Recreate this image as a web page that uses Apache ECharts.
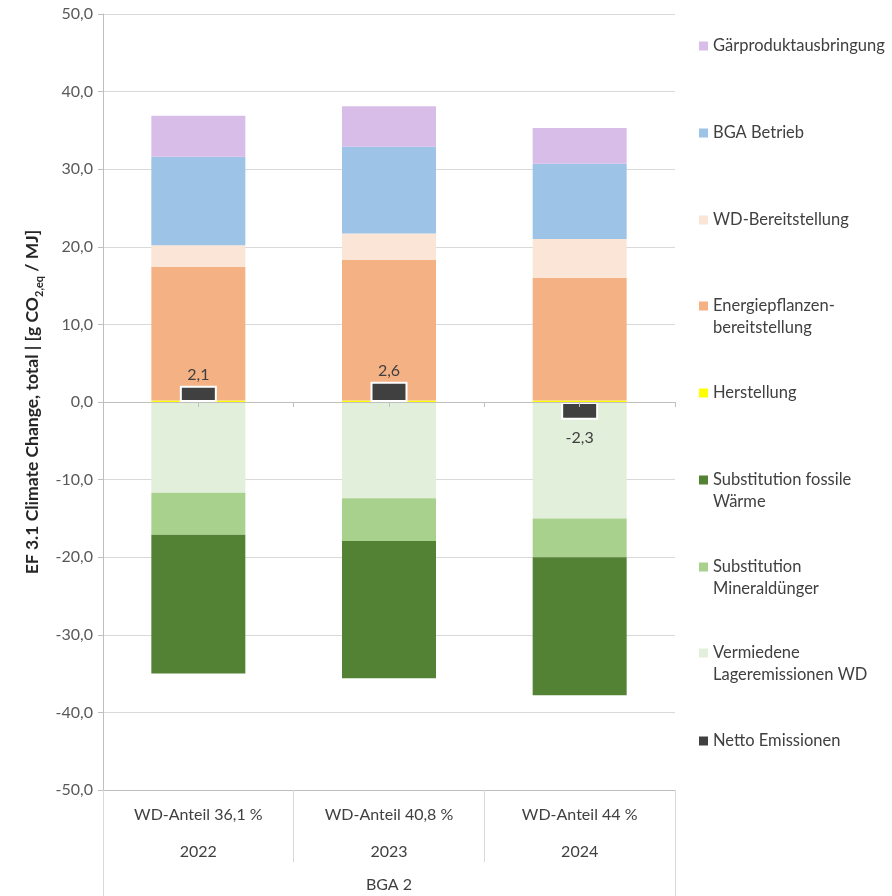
<!DOCTYPE html>
<html><head><meta charset="utf-8">
<script src="https://cdn.jsdelivr.net/npm/echarts@6/dist/echarts.min.js"></script>
<style>html,body{margin:0;padding:0;background:#fff}#c{width:892px;height:896px}</style>
</head><body><div id="c"></div>
<script>
const years = ['2022', '2023', '2024'];
const shares = ['WD-Anteil 36,1 %', 'WD-Anteil 40,8 %', 'WD-Anteil 44 %'];
const groupLabel = ['BGA 2'];
const herstellung = [0.2, 0.2, 0.2];
const energie = [17.2, 18.1, 15.8];
const wdBereit = [2.8, 3.4, 5.0];
const bgaBetrieb = [11.4, 11.2, 9.7];
const gaer = [5.3, 5.2, 4.6];
const vermiedene = [-11.7, -12.4, -15.0];
const mineral = [-5.4, -5.5, -5.0];
const fossil = [-17.9, -17.7, -17.8];
const netto = [2.1, 2.6, -2.3];

const FONT = 'Lato';
const names = {
  gaer: 'Gärproduktausbringung',
  bga: 'BGA Betrieb',
  wd: 'WD-Bereitstellung',
  energie: 'Energiepflanzen-\nbereitstellung',
  herst: 'Herstellung',
  fossil: 'Substitution fossile\nWärme',
  mineral: 'Substitution\nMineraldünger',
  verm: 'Vermiedene\nLageremissionen WD',
  netto: 'Netto Emissionen'
};
const legendRows = [
  [names.gaer, 45, false], [names.bga, 132, false], [names.wd, 219, false],
  [names.energie, 305, true], [names.herst, 392, false], [names.fossil, 479, true],
  [names.mineral, 566, true], [names.verm, 652, true], [names.netto, 740, false]
];
// square at top of a taller (invisible) box so the icon lines up with the first text line
const ICON_TWO = 'path://M0,0L9,0L9,9L0,9Z M0,31L0,31Z';

function stackBar(name, data, color) {
  return { name, type: 'bar', stack: 'total', data, barWidth: 94, xAxisIndex: 0,
    itemStyle: { color }, emphasis: { disabled: true } };
}
const fmt = v => v.toFixed(1).replace('.', ',');

const chart = echarts.init(document.getElementById('c'), null, { renderer: 'canvas' });
chart.setOption({
  animation: false,
  textStyle: { fontFamily: FONT },
  grid: { left: 103, right: 217, top: 14, bottom: 106 },
  legend: legendRows.map(([n, y, two]) => ({
    data: [n], left: 699, top: y - 10, orient: 'vertical', padding: 0,
    itemWidth: 9, itemHeight: two ? 31 : 9, selectedMode: false,
    icon: two ? ICON_TWO : 'rect', symbolKeepAspect: false,
    itemStyle: { borderWidth: 0 },
    textStyle: { fontFamily: FONT, fontSize: 16.5, color: '#404040', lineHeight: 22 }
  })),
  xAxis: [
    { type: 'category', data: years, position: 'bottom',
      axisLine: { onZero: false, lineStyle: { color: '#BFBFBF' } },
      axisTick: { show: true, length: 72, lineStyle: { color: '#D9D9D9' } },
      axisLabel: { margin: 6,
        formatter: (v, i) => `{a|${shares[i]}}\n{a|${v}}`,
        rich: { a: { fontFamily: FONT, fontSize: 16, lineHeight: 37, color: '#404040' } } },
      splitLine: { show: false } },
    { type: 'category', data: years, position: 'bottom', z: 5,
      axisLine: { onZero: true, onZeroAxisIndex: 0, lineStyle: { color: '#BFBFBF' } },
      axisTick: { show: true, alignWithLabel: true, length: 5, lineStyle: { color: '#BFBFBF' } },
      axisLabel: { show: false }, splitLine: { show: false } },
    { type: 'category', data: years, position: 'bottom', z: 5,
      axisLine: { onZero: true, onZeroAxisIndex: 0, lineStyle: { color: '#BFBFBF' } },
      axisTick: { show: true, length: 5, lineStyle: { color: '#BFBFBF' } },
      axisLabel: { show: false }, splitLine: { show: false } },
    { type: 'category', data: groupLabel, position: 'bottom',
      axisLine: { show: false, onZero: false },
      axisTick: { show: true, length: 106, lineStyle: { color: '#D9D9D9' } },
      axisLabel: { margin: 87, fontFamily: FONT, fontSize: 16, color: '#404040' },
      splitLine: { show: false } }
  ],
  yAxis: {
    type: 'value', min: -50, max: 50, interval: 10,
    axisLine: { show: true, lineStyle: { color: '#BFBFBF' } },
    axisTick: { show: true, length: 5, lineStyle: { color: '#BFBFBF' } },
    axisLabel: { formatter: fmt, margin: 10, fontFamily: FONT, fontSize: 16, color: '#595959' },
    splitLine: { lineStyle: { color: '#D9D9D9' } },
    name: '{a|EF 3.1 Climate Change, total | [g CO}{s|2,eq}{a| / MJ]}',
    nameLocation: 'middle', nameGap: 57,
    nameTextStyle: { rich: {
      a: { fontFamily: FONT, fontSize: 17.5, fontWeight: 'bold', color: '#262626', lineHeight: 24, verticalAlign: 'bottom' },
      s: { fontFamily: FONT, fontSize: 11, fontWeight: 'bold', color: '#262626', lineHeight: 24, verticalAlign: 'bottom', padding: [0, 0, -3, 0] }
    } }
  },
  series: [
    stackBar(names.herst, herstellung, '#FFFF00'),
    stackBar(names.energie, energie, '#F4B183'),
    stackBar(names.wd, wdBereit, '#FBE5D6'),
    stackBar(names.bga, bgaBetrieb, '#9DC3E6'),
    stackBar(names.gaer, gaer, '#D9BDE9'),
    stackBar(names.verm, vermiedene, '#E2EFDA'),
    stackBar(names.mineral, mineral, '#A9D18E'),
    stackBar(names.fossil, fossil, '#548235'),
    { name: names.netto, type: 'bar', xAxisIndex: 1, barWidth: 37, z: 3,
      data: netto.map(v => ({ value: v, label: { position: v >= 0 ? 'top' : 'bottom', distance: v >= 0 ? 3 : 10 } })),
      itemStyle: { color: '#404040', borderColor: '#FFFFFF', borderWidth: 2 },
      label: { show: true, formatter: p => fmt(p.value), fontFamily: FONT, fontSize: 16, color: '#404040' },
      emphasis: { disabled: true } }
  ]
});
</script></body></html>
